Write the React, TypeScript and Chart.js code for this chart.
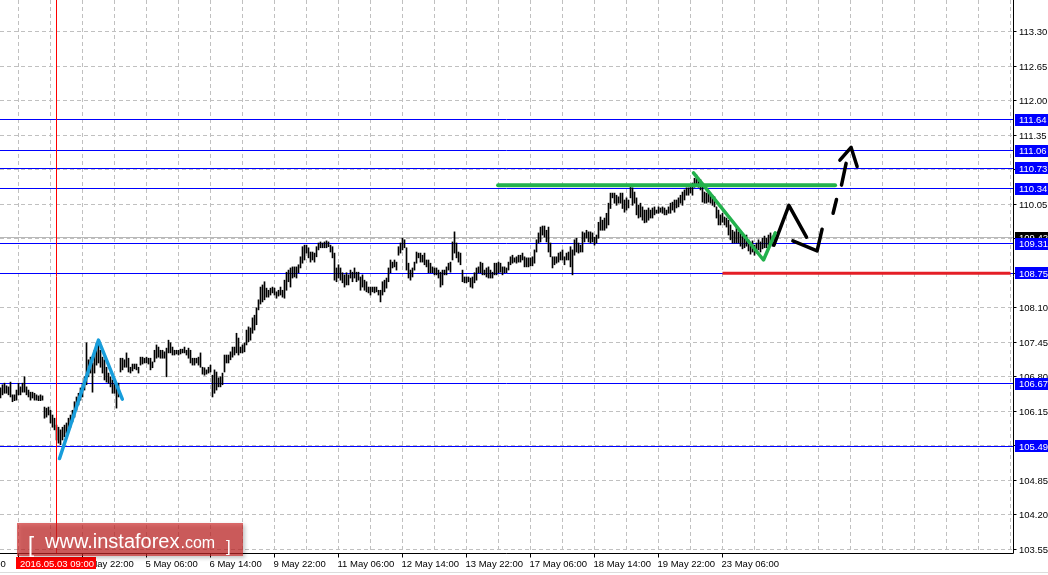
import React, { useEffect, useRef } from "react";
import { Chart, registerables } from "chart.js";

Chart.register(...registerables);

// ---- Data (USD/JPY H1 bars) ----
const barHighs = [
  106.59, 106.65, 106.68, 106.63, 106.61, 106.70, 106.46, 106.46, 106.55, 106.68,
  106.61, 106.68, 106.80, 106.61, 106.55, 106.51, 106.51, 106.49, 106.46, 106.44,
  106.46, 106.44, 106.23, 106.21, 106.23, 106.17, 106.08, 106.02, 105.89, 105.85,
  105.80, 105.85, 105.89, 105.93, 106.02, 106.08, 106.17, 106.33, 106.42, 106.49,
  106.59, 106.68, 106.80, 107.44, 107.12, 107.17, 107.06, 107.30, 107.44, 107.44,
  107.30, 107.17, 107.12, 106.98, 106.87, 106.80, 106.74, 106.68, 106.61, 106.68,
  107.15, 107.15, 107.12, 107.25, 107.15,
  106.98, 107.04, 107.04, 107.04, 106.98, 107.17, 107.17, 107.15, 107.17, 107.15,
  107.15, 107.08, 107.30, 107.40, 107.36, 107.30, 107.30, 107.27, 107.34, 107.49,
  107.44, 107.36, 107.30, 107.30, 107.30, 107.32, 107.32, 107.36, 107.30, 107.34,
  107.30, 107.15, 107.15, 107.15, 107.17, 107.25, 106.98, 106.97, 106.93, 106.98,
  107.02, 106.83, 106.93, 106.89, 106.78, 106.80, 106.87, 107.21, 107.21, 107.21,
  107.27, 107.36, 107.36, 107.62, 107.53, 107.36, 107.40, 107.44, 107.68, 107.74,
  107.72, 107.91, 107.96, 108.10, 108.25,
  108.49, 108.53, 108.59, 108.47, 108.43, 108.47, 108.49, 108.47, 108.40, 108.43,
  108.49, 108.43, 108.62, 108.77, 108.81, 108.85, 108.87, 108.87, 108.87, 108.91,
  109.06, 109.25, 109.28, 109.28, 109.23, 109.15, 109.15, 109.13, 109.25, 109.32,
  109.34, 109.32, 109.34, 109.36, 109.34, 109.28, 109.25, 109.13, 108.85, 108.91,
  108.85, 108.76, 108.72, 108.76, 108.72, 108.81, 108.77, 108.85, 108.77, 108.77,
  108.68, 108.72, 108.62, 108.59, 108.49, 108.49, 108.49, 108.49, 108.49, 108.43,
  108.43, 108.59, 108.62, 108.66, 108.85,
  109.00, 108.96, 109.00, 108.96, 109.25, 109.32, 109.41, 109.38, 109.23, 108.94,
  108.81, 108.85, 108.96, 109.15, 109.13, 109.13, 109.09, 109.13, 109.00, 109.00,
  108.94, 108.87, 108.85, 108.85, 108.81, 108.77, 108.81, 108.81, 108.87, 108.94,
  108.96, 109.34, 109.53, 109.32, 109.15, 109.13, 108.81, 108.68, 108.68, 108.68,
  108.66, 108.68, 108.76, 108.85, 108.87, 108.96, 108.94, 108.81, 108.85, 108.87,
  108.81, 108.77, 108.94, 108.94, 108.96, 108.94, 108.87, 108.87, 108.85, 108.96,
  109.06, 109.09, 109.04, 109.06, 109.09,
  109.09, 109.13, 109.06, 109.04, 109.04, 109.04, 109.06, 109.19, 109.38, 109.51,
  109.62, 109.64, 109.64, 109.56, 109.62, 109.32, 109.06, 109.06, 109.06, 109.13,
  109.15, 109.19, 109.06, 109.13, 109.15, 109.25, 109.19, 109.38, 109.41, 109.32,
  109.28, 109.53, 109.51, 109.56, 109.53, 109.53, 109.51, 109.43, 109.47, 109.71,
  109.81, 109.75, 109.79, 109.88, 110.07, 110.26, 110.26, 110.26, 110.22, 110.19,
  110.26, 110.26, 110.13, 110.17, 110.13, 110.37, 110.36, 110.28, 110.17, 110.03,
  110.07, 110.00, 109.94, 109.94, 109.98, 109.94, 109.98, 110.00, 109.94, 110.00,
  109.98, 110.00, 109.98, 109.94, 110.00, 110.07, 110.09, 110.13, 110.13, 110.17,
  110.22, 110.28, 110.32, 110.36, 110.36, 110.37, 110.45, 110.54, 110.60, 110.54,
  110.51, 110.45, 110.28, 110.26, 110.28, 110.26, 110.22, 110.19, 110.00, 109.94,
  109.85, 109.88, 109.81, 109.79, 109.75, 109.66, 109.56, 109.53, 109.62, 109.53,
  109.53, 109.45, 109.41, 109.47, 109.38, 109.32, 109.36, 109.28, 109.32, 109.38,
  109.34, 109.41, 109.45, 109.41, 109.47, 109.51, 109.45, 109.51,
];

const barLows = [
  106.40, 106.46, 106.49, 106.49, 106.46, 106.42, 106.33, 106.35, 106.36, 106.46,
  106.46, 106.51, 106.51, 106.46, 106.42, 106.36, 106.40, 106.36, 106.36, 106.35,
  106.35, 106.36, 106.02, 106.04, 106.08, 105.93, 105.85, 105.80, 105.61, 105.55,
  105.52, 105.61, 105.67, 105.74, 105.80, 105.85, 105.95, 106.04, 106.17, 106.27,
  106.36, 106.42, 106.55, 106.65, 106.80, 106.87, 106.51, 106.87, 107.02, 107.06,
  106.98, 106.87, 106.74, 106.70, 106.68, 106.61, 106.49, 106.49, 106.21, 106.42,
  106.89, 106.93, 106.98, 106.98, 106.89,
  106.87, 106.91, 106.95, 106.93, 106.87, 107.02, 107.04, 107.06, 107.06, 107.04,
  106.93, 106.97, 107.08, 107.15, 107.17, 107.15, 107.15, 107.15, 106.80, 107.25,
  107.25, 107.21, 107.21, 107.23, 107.21, 107.23, 107.25, 107.25, 107.21, 107.15,
  107.06, 107.02, 107.02, 107.06, 107.02, 106.98, 106.85, 106.83, 106.85, 106.87,
  106.89, 106.42, 106.49, 106.55, 106.61, 106.61, 106.65, 106.89, 107.06, 107.06,
  107.12, 107.17, 107.21, 107.25, 107.21, 107.25, 107.25, 107.27, 107.40, 107.46,
  107.49, 107.62, 107.68, 107.78, 108.06,
  108.17, 108.21, 108.25, 108.30, 108.30, 108.34, 108.38, 108.34, 108.28, 108.32,
  108.34, 108.30, 108.28, 108.43, 108.59, 108.49, 108.66, 108.68, 108.66, 108.76,
  108.85, 108.94, 109.00, 109.13, 109.04, 108.96, 109.00, 108.96, 109.06, 109.19,
  109.23, 109.23, 109.23, 109.23, 109.25, 109.15, 109.04, 108.62, 108.59, 108.66,
  108.62, 108.57, 108.49, 108.53, 108.53, 108.66, 108.59, 108.66, 108.59, 108.62,
  108.43, 108.49, 108.43, 108.40, 108.38, 108.34, 108.40, 108.38, 108.40, 108.34,
  108.21, 108.34, 108.40, 108.47, 108.59,
  108.76, 108.85, 108.87, 108.81, 109.09, 109.13, 109.19, 109.23, 108.81, 108.66,
  108.62, 108.68, 108.81, 108.94, 109.04, 108.96, 108.96, 108.91, 108.87, 108.76,
  108.76, 108.76, 108.72, 108.72, 108.66, 108.49, 108.53, 108.72, 108.72, 108.81,
  108.77, 109.00, 109.13, 109.04, 108.96, 108.91, 108.59, 108.57, 108.57, 108.59,
  108.49, 108.47, 108.57, 108.62, 108.76, 108.76, 108.72, 108.72, 108.68, 108.66,
  108.66, 108.66, 108.72, 108.72, 108.76, 108.77, 108.72, 108.76, 108.76, 108.81,
  108.91, 108.94, 108.96, 108.94, 108.96,
  108.96, 109.00, 108.87, 108.87, 108.87, 108.89, 108.89, 108.94, 109.15, 109.32,
  109.34, 109.47, 109.43, 109.34, 109.15, 109.06, 108.85, 108.91, 108.94, 108.96,
  109.00, 109.00, 108.91, 109.00, 109.00, 108.87, 108.72, 109.09, 109.15, 109.13,
  109.15, 109.15, 109.34, 109.41, 109.34, 109.32, 109.34, 109.28, 109.32, 109.41,
  109.56, 109.56, 109.56, 109.60, 109.66, 109.97, 110.17, 110.07, 110.03, 110.07,
  110.07, 109.97, 109.90, 109.94, 109.98, 110.17, 110.03, 110.07, 109.85, 109.79,
  109.81, 109.75, 109.70, 109.71, 109.75, 109.79, 109.79, 109.85, 109.88, 109.88,
  109.90, 109.88, 109.85, 109.85, 109.88, 109.88, 109.94, 109.90, 109.98, 110.00,
  110.07, 110.03, 110.13, 110.22, 110.22, 110.26, 110.22, 110.37, 110.41, 110.37,
  110.32, 110.09, 110.07, 110.07, 110.09, 110.07, 110.03, 110.00, 109.79, 109.66,
  109.66, 109.71, 109.66, 109.62, 109.47, 109.38, 109.32, 109.32, 109.32, 109.32,
  109.26, 109.21, 109.23, 109.26, 109.17, 109.11, 109.15, 109.09, 109.13, 109.19,
  109.15, 109.21, 109.23, 109.23, 109.28, 109.30, 109.26, 109.38,
];

// time axis (bar index -> label)
const timeTickIndex = [-23, 9, 41, 73, 105, 137, 169, 201, 233, 265, 297, 329, 361];
const timeTickLabels = [
  "1 May 06:00", "2 May 14:00", "3 May 22:00", "5 May 06:00", "6 May 14:00",
  "9 May 22:00", "11 May 06:00", "12 May 14:00", "13 May 22:00", "17 May 06:00",
  "18 May 14:00", "19 May 22:00", "23 May 06:00",
];
const markerIndex = 28;
const markerLabel = "2016.05.03 09:00";

// price axis
const priceTicks = [
  113.3, 112.65, 112.0, 111.35, 110.7, 110.05, 109.4, 108.75, 108.1, 107.45,
  106.8, 106.15, 105.5, 104.85, 104.2, 103.55,
];
const levelPrices = [111.64, 111.06, 110.73, 110.34, 108.75, 106.67, 105.49, 109.31];
const currentPrice = 109.42;

// drawn analysis lines (bar index, price)
const blueWave = [[29.5, 105.26], [49, 107.49], [60.9, 106.38]];
const greenResistance = [[248.8, 110.41], [417.3, 110.41]];
const greenWave = [[346.5, 110.64], [381.5, 109.0], [387.4, 109.51]];
const redSupport = [[361, 108.75], [505, 108.75]];
const blackPathA = [[386.7, 109.28], [394.2, 110.03], [403, 109.43]];
const blackPathB = [[396.2, 109.36], [408.3, 109.17], [410.8, 109.58]];
const blackDash1 = [[416.3, 109.88], [418, 110.14]];
const blackDash2 = [[420.5, 110.41], [422.8, 110.82]];
const blackArrow = [[419.7, 110.88], [425.3, 111.12], [428.3, 110.76]];

const X_MIN = -0.25;
const X_MAX = 506.25;
const Y_MIN = 103.481;
const Y_MAX = 113.897;
const FONT = "9.5px 'Liberation Sans', Arial, sans-serif";

const toPts = (arr: number[][]) => arr.map(([x, y]) => ({ x, y }));

const lineDs = (pts: number[][], color: string, width: number) => ({
  type: "line" as const,
  data: toPts(pts),
  borderColor: color,
  borderWidth: width,
  pointRadius: 0,
  fill: false,
  tension: 0,
  borderJoinStyle: "round" as const,
  borderCapStyle: "round" as const,
  order: 0,
});

export default function App() {
  const ref = useRef<HTMLCanvasElement | null>(null);

  useEffect(() => {
    const canvas = ref.current;
    if (!canvas) return;

    const plugin = {
      id: "mt4",
      beforeDatasetsDraw(chart: any) {
        const { ctx, chartArea } = chart;
        const sx = chart.scales.x;
        const sy = chart.scales.y;
        const c = (v: number) => Math.round(v - 0.5) + 0.5;
        ctx.save();
        ctx.fillStyle = "#fff";
        // grid
        ctx.strokeStyle = "#c0c0c0";
        ctx.lineWidth = 1;
        ctx.setLineDash([4, 3]);
        for (let i = 9 - 16; i <= X_MAX; i += 16) {
          const x = c(sx.getPixelForValue(i));
          if (x < chartArea.left || x > chartArea.right) continue;
          ctx.beginPath();
          ctx.moveTo(x, chartArea.top);
          ctx.lineTo(x, chartArea.bottom);
          ctx.stroke();
        }
        for (const p of priceTicks) {
          const y = c(sy.getPixelForValue(p));
          ctx.beginPath();
          ctx.moveTo(chartArea.left, y);
          ctx.lineTo(chartArea.right, y);
          ctx.stroke();
        }
        ctx.setLineDash([]);
        // current price line
        ctx.strokeStyle = "#b8b8b8";
        {
          const y = c(sy.getPixelForValue(currentPrice));
          ctx.beginPath();
          ctx.moveTo(chartArea.left, y);
          ctx.lineTo(chartArea.right, y);
          ctx.stroke();
        }
        // levels
        ctx.strokeStyle = "#0000ff";
        for (const p of levelPrices) {
          const y = c(sy.getPixelForValue(p));
          ctx.beginPath();
          ctx.moveTo(chartArea.left, y);
          ctx.lineTo(chartArea.right, y);
          ctx.stroke();
        }
        ctx.restore();
      },
      afterDatasetsDraw(chart: any) {
        const { ctx, chartArea } = chart;
        const sx = chart.scales.x;
        const c = (v: number) => Math.round(v - 0.5) + 0.5;
        ctx.save();
        ctx.strokeStyle = "#ff0000";
        ctx.lineWidth = 1;
        const x = c(sx.getPixelForValue(markerIndex));
        ctx.beginPath();
        ctx.moveTo(x, chartArea.top);
        ctx.lineTo(x, chartArea.bottom);
        ctx.stroke();
        ctx.restore();
      },
      afterDraw(chart: any) {
        const { ctx, chartArea } = chart;
        const sx = chart.scales.x;
        const sy = chart.scales.y;
        const c = (v: number) => Math.round(v - 0.5) + 0.5;
        const R = c(chartArea.right);
        const B = c(chartArea.bottom);
        ctx.save();
        // axes
        ctx.strokeStyle = "#000";
        ctx.lineWidth = 1;
        ctx.beginPath();
        ctx.moveTo(0, B);
        ctx.lineTo(R, B);
        ctx.moveTo(R, 0);
        ctx.lineTo(R, B);
        ctx.stroke();
        // window border at bottom
        ctx.strokeStyle = "#dcdcdc";
        ctx.beginPath();
        ctx.moveTo(0, 572.5);
        ctx.lineTo(1048, 572.5);
        ctx.stroke();

        ctx.font = FONT;
        ctx.textBaseline = "alphabetic";
        ctx.textAlign = "left";
        ctx.fillStyle = "#000";
        ctx.strokeStyle = "#000";
        // price ticks
        for (const p of priceTicks) {
          const y = sy.getPixelForValue(p);
          ctx.beginPath();
          ctx.moveTo(R, c(y));
          ctx.lineTo(R + 3, c(y));
          ctx.stroke();
          ctx.fillText(p.toFixed(2), 1019, y + 3.5);
        }
        // time ticks
        timeTickIndex.forEach((idx, k) => {
          const x = sx.getPixelForValue(idx);
          if (x >= 0) {
            ctx.beginPath();
            ctx.moveTo(c(x), B);
            ctx.lineTo(c(x), B + 4);
            ctx.stroke();
          }
          ctx.fillText(timeTickLabels[k], x - 1, 566.5);
        });
        // current price tag
        const tag = (p: number, bg: string) => {
          const y = sy.getPixelForValue(p);
          ctx.fillStyle = bg;
          ctx.fillRect(R + 1.5, Math.round(y) - 6, 1048 - R, 12);
          ctx.fillStyle = "#fff";
          ctx.fillText(p.toFixed(2), 1019, y + 3.5);
        };
        tag(currentPrice, "#000");
        for (const p of levelPrices) tag(p, "#0000ff");

        // marker time label
        {
          const x = sx.getPixelForValue(markerIndex);
          ctx.fillStyle = "#ff0000";
          ctx.fillRect(16, 557, 80, 12);
          ctx.fillStyle = "#fff";
          ctx.fillText(markerLabel, x - 36.5, 566.5);
        }

        // watermark
        ctx.save();
        ctx.shadowColor = "rgba(0,0,0,0.35)";
        ctx.shadowBlur = 4;
        ctx.shadowOffsetX = 2;
        ctx.shadowOffsetY = 2;
        ctx.fillStyle = "rgba(205, 40, 40, 0.68)";
        ctx.fillRect(17, 523, 226, 33);
        ctx.restore();
        ctx.fillStyle = "#fff";
        ctx.font = "22px 'Liberation Sans', Arial, sans-serif";
        ctx.fillText("[", 28, 552);
        ctx.font = "20px 'Liberation Sans', Arial, sans-serif";
        ctx.fillText("www.instaforex", 45, 548);
        const w = ctx.measureText("www.instaforex").width;
        ctx.font = "16px 'Liberation Sans', Arial, sans-serif";
        ctx.fillText(".com", 45 + w + 1, 548);
        ctx.font = "17px 'Liberation Sans', Arial, sans-serif";
        ctx.fillText("]", 226, 552);
        ctx.restore();
      },
    };

    const barData = barHighs.map((h, i) => ({ x: i, y: [barLows[i], h] }));

    const chart = new Chart(canvas, {
      type: "bar",
      data: {
        datasets: [
          lineDs(blueWave, "#179ddb", 3.5),
          lineDs(greenResistance, "#22b14c", 4),
          lineDs(greenWave, "#22b14c", 3.5),
          lineDs(blackPathA, "#000", 3.5),
          lineDs(blackPathB, "#000", 3.5),
          lineDs(blackDash1, "#000", 3.5),
          lineDs(blackDash2, "#000", 3.5),
          lineDs(blackArrow, "#000", 3.5),
          { ...lineDs(redSupport, "#e41e26", 3), borderCapStyle: "butt" as const, order: 1 },
          {
            type: "bar" as const,
            data: barData as any,
            backgroundColor: "#000",
            borderWidth: 0,
            barThickness: 1,
            grouped: false,
            order: 5,
          },
        ] as any,
      },
      options: {
        animation: false,
        responsive: false,
        maintainAspectRatio: false,
        devicePixelRatio: 1,
        layout: { padding: { left: 0, top: 0, right: 35, bottom: 22 } },
        scales: {
          x: { type: "linear", min: X_MIN, max: X_MAX, display: false, offset: false },
          y: { type: "linear", min: Y_MIN, max: Y_MAX, display: false },
        },
        plugins: { legend: { display: false }, tooltip: { enabled: false } },
        events: [],
      } as any,
      plugins: [plugin],
    });

    return () => chart.destroy();
  }, []);

  return (
    <div style={{ position: "absolute", left: 0, top: 0, width: 1048, height: 575, background: "#fff" }}>
      <canvas ref={ref} width={1048} height={575} style={{ display: "block", width: 1048, height: 575 }} />
    </div>
  );
}
